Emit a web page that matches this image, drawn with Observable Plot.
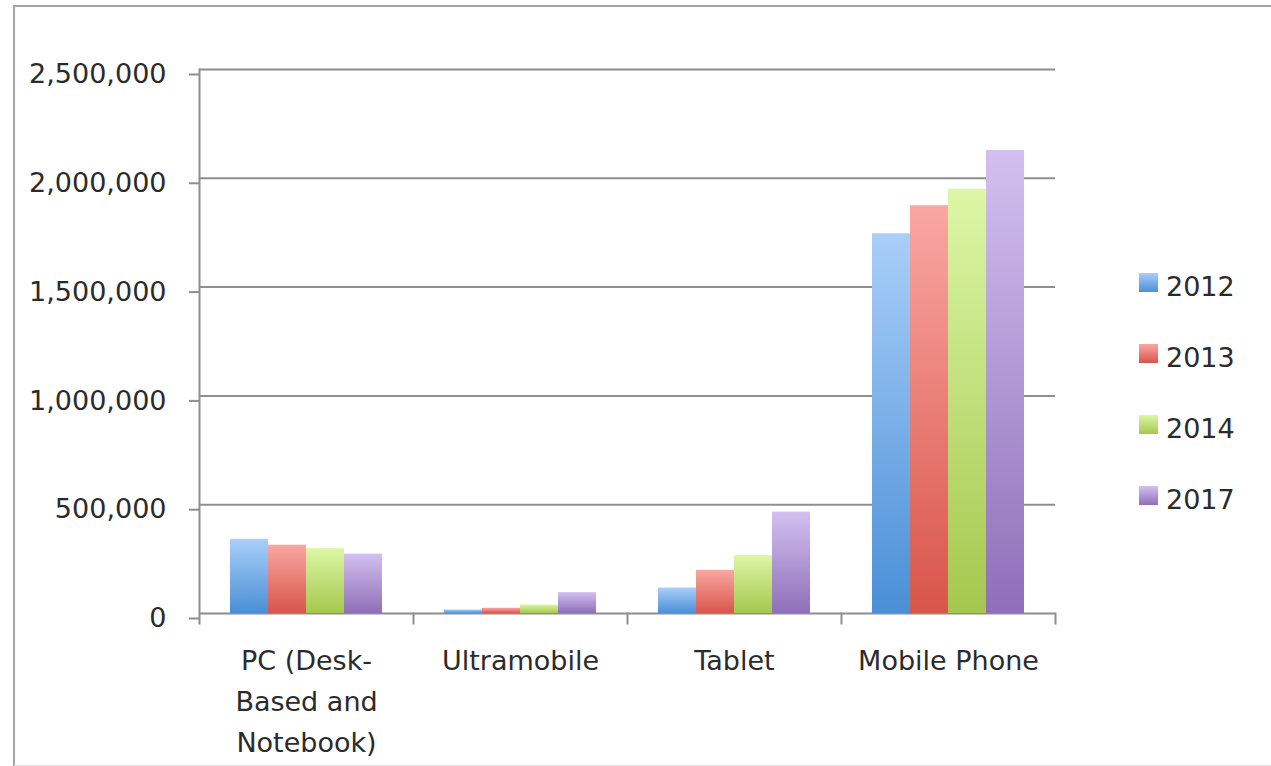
<!DOCTYPE html>
<html>
<head>
<meta charset="utf-8">
<script src="https://cdn.jsdelivr.net/npm/d3@7"></script>
<script src="https://cdn.jsdelivr.net/npm/@observablehq/plot@0.6"></script>
<style>
  html, body { margin: 0; padding: 0; background: #fff; }
  #wrap { position: relative; width: 1271px; height: 766px; overflow: hidden; font-family: "DejaVu Sans", sans-serif; }
  #frame { position: absolute; left: 13px; top: 5px; width: 1262px; height: 758px;
           border-left: 2px solid #a4a4a4; border-top: 2px solid #a4a4a4; border-bottom: 1px solid #e2e2e2; pointer-events: none; }
  #chart { position: absolute; left: 0; top: 0; }
  #legend { position: absolute; left: 1139px; top: 251px; }
  .item { display: flex; align-items: center; height: 71px; }
  .sw { width: 19px; height: 19px; margin-right: 8px; position: relative; top: -4px; }
  .lab { font-size: 27px; color: #2b2b2b; line-height: 1; }
</style>
</head>
<body>
<svg width="0" height="0" style="position:absolute">
  <defs>
    <linearGradient id="g2012" x1="0" y1="0" x2="0" y2="1"><stop offset="0" stop-color="#a9cff9"/><stop offset="1" stop-color="#4a8fd6"/></linearGradient>
    <linearGradient id="g2013" x1="0" y1="0" x2="0" y2="1"><stop offset="0" stop-color="#faa7a2"/><stop offset="1" stop-color="#d8554a"/></linearGradient>
    <linearGradient id="g2014" x1="0" y1="0" x2="0" y2="1"><stop offset="0" stop-color="#ddf6a6"/><stop offset="1" stop-color="#a4c84e"/></linearGradient>
    <linearGradient id="g2017" x1="0" y1="0" x2="0" y2="1"><stop offset="0" stop-color="#d3c0ef"/><stop offset="1" stop-color="#8f6fb9"/></linearGradient>
  </defs>
</svg>
<div id="wrap">
  <div id="chart"></div>
  <div id="frame"></div>
  <div id="legend"></div>
</div>
<script>
// ---- data ----
const categories = ["PC (Desk-Based and Notebook)", "Ultramobile", "Tablet", "Mobile Phone"];
const categoryLabels = ["PC (Desk-\nBased and\nNotebook)", "Ultramobile", "Tablet", "Mobile Phone"];
const years = ["2012", "2013", "2014", "2017"];
const values2012 = [341000, 16000, 117000, 1745000];
const values2013 = [314000, 24000, 198000, 1874000];
const values2014 = [298000, 39000, 266000, 1950000];
const values2017 = [273000, 96000, 466000, 2128000];
const yTicks = [0, 500000, 1000000, 1500000, 2000000, 2500000];
const fills = ["url(#g2012)", "url(#g2013)", "url(#g2014)", "url(#g2017)"];

const series = [values2012, values2013, values2014, values2017];
const rows = [];
years.forEach((yr, i) => categories.forEach((c, j) => rows.push({category: c, year: yr, value: series[i][j]})));
const labelOf = new Map(categories.map((c, i) => [c, categoryLabels[i]]));

const gridColor = "#8e8e8e";
const chart = Plot.plot({
  width: 1271,
  height: 766,
  marginLeft: 198,
  marginRight: 216,
  marginTop: 69,
  marginBottom: 153,
  style: {fontFamily: "DejaVu Sans, sans-serif", fontSize: "27px", color: "#2b2b2b", background: "transparent"},
  fx: {domain: categories, padding: 0},
  x: {domain: years, paddingInner: 0, paddingOuter: 0.744, axis: null},
  y: {domain: [0, 2500000]},
  color: {type: "ordinal", domain: years, range: fills},
  marks: [
    Plot.gridY(yTicks, {stroke: gridColor, strokeOpacity: 1, strokeWidth: 2}),
    Plot.frame({anchor: "right", stroke: gridColor, strokeWidth: 2, insetTop: 544, insetBottom: -10}),
    Plot.frame({anchor: "left", stroke: gridColor, strokeWidth: 2, insetBottom: -10, facet: "super"}),
    Plot.axisY(yTicks, {tickSize: 10, tickPadding: 23, tickFormat: d3.format(","), stroke: gridColor, strokeWidth: 2, dy: 5, label: null, fontSize: 27}),
    Plot.axisFx({anchor: "bottom", tickSize: 0, tickPadding: 27, label: null, tickFormat: d => labelOf.get(d), lineHeight: 1.52, fontSize: 27}),
    Plot.barY(rows, {fx: "category", x: "year", y: "value", fill: "year"})
  ]
});
document.getElementById("chart").appendChild(chart);

const legend = document.getElementById("legend");
years.forEach((yr, i) => {
  const item = document.createElement("div");
  item.className = "item";
  item.innerHTML = `<svg class="sw" width="19" height="19"><rect width="19" height="19" fill="${fills[i]}"/></svg><span class="lab">${yr}</span>`;
  legend.appendChild(item);
});
</script>
</body>
</html>
